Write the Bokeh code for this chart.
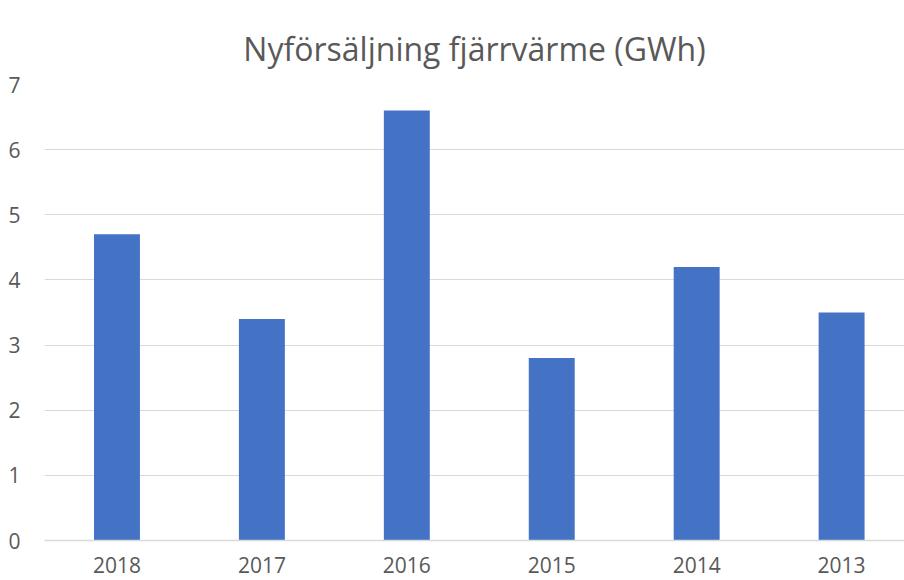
from bokeh.plotting import figure
from bokeh.models import Range1d, FixedTicker, ColumnDataSource
from bokeh.embed import file_html
from bokeh.resources import INLINE

title_text = "Nyförsäljning fjärrvärme (GWh)"
years = ["2018", "2017", "2016", "2015", "2014", "2013"]
values = [4.7, 3.4, 6.6, 2.8, 4.2, 3.5]
y_ticks = [0, 1, 2, 3, 4, 5, 6, 7]

xpos = [i + 0.5 for i in range(len(years))]
src = ColumnDataSource(dict(x=xpos, top=values, year=years))

p = figure(width=904, height=580, output_backend="svg", toolbar_location=None,
           x_range=Range1d(0, 5.934), y_range=Range1d(0, 7),
           min_border_left=44, min_border_right=0, min_border_top=84, min_border_bottom=40,
           title=title_text)
p.outline_line_color = None
p.background_fill_color = "white"

p.vbar(x="x", top="top", width=0.317, source=src, color="#4472C4", line_color=None)

p.title.align = "center"
p.title.text_font = "Open Sans"
p.title.text_font_size = "32px"
p.title.text_font_style = "normal"
p.title.text_color = "#595959"
p.title.standoff = 30

p.xaxis.ticker = FixedTicker(ticks=xpos)
p.xaxis.major_label_overrides = {x: y for x, y in zip(xpos, years)}
p.yaxis.ticker = FixedTicker(ticks=y_ticks)

for ax in (p.xaxis[0], p.yaxis[0]):
    ax.major_tick_line_color = None
    ax.minor_tick_line_color = None
    ax.major_label_text_font = "Open Sans"
    ax.major_label_text_font_size = "21px"
    ax.major_label_text_color = "#595959"

p.yaxis.axis_line_color = None
p.yaxis.major_label_standoff = 18
p.xaxis.axis_line_color = "#d9d9d9"
p.xaxis.axis_line_width = 1.5
p.xaxis.major_label_standoff = 10

p.xgrid.grid_line_color = None
p.ygrid.grid_line_color = "#d9d9d9"
p.ygrid.grid_line_width = 1

open("out.html", "w").write(file_html(p, INLINE))
